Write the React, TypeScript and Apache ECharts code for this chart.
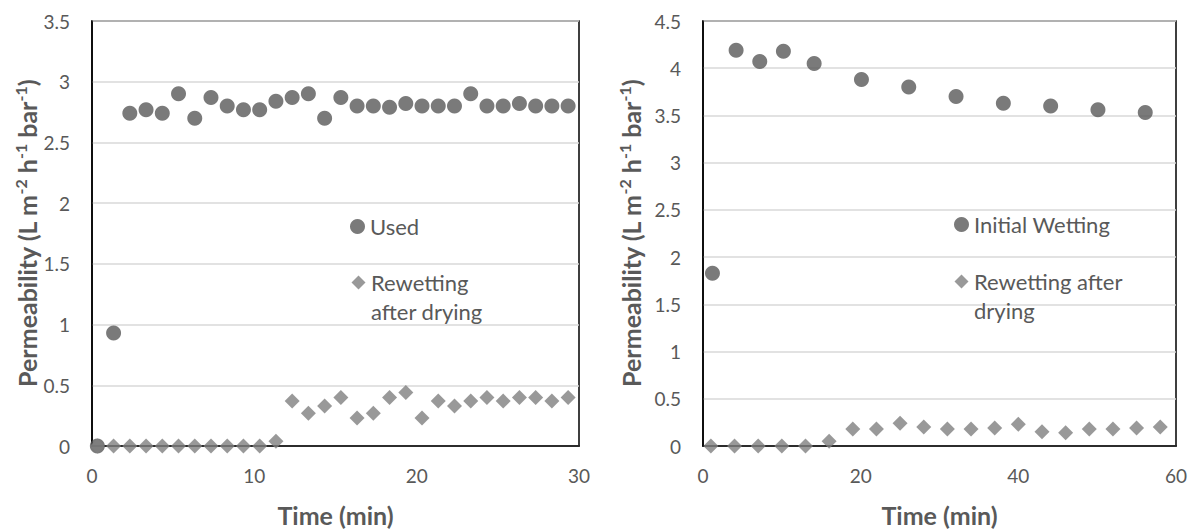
import React, { useEffect, useRef } from "react";
import * as echarts from "echarts";

const FONT = "Lato, 'Open Sans', sans-serif";
const TEXT = "#595959";

// Left chart: time (min)
const leftTime = [0.33, 1.33, 2.33, 3.33, 4.33, 5.33, 6.33, 7.33, 8.33, 9.33, 10.33, 11.33, 12.33, 13.33, 14.33, 15.33, 16.33, 17.33, 18.33, 19.33, 20.33, 21.33, 22.33, 23.33, 24.33, 25.33, 26.33, 27.33, 28.33, 29.33];
const leftUsed = [0, 0.93, 2.74, 2.77, 2.74, 2.9, 2.7, 2.87, 2.8, 2.77, 2.77, 2.84, 2.87, 2.9, 2.7, 2.87, 2.8, 2.8, 2.79, 2.82, 2.8, 2.8, 2.8, 2.9, 2.8, 2.8, 2.82, 2.8, 2.8, 2.8];
const leftRewet = [0, 0, 0, 0, 0, 0, 0, 0, 0, 0, 0, 0.04, 0.37, 0.27, 0.33, 0.4, 0.23, 0.27, 0.4, 0.44, 0.23, 0.37, 0.33, 0.37, 0.4, 0.37, 0.4, 0.4, 0.37, 0.4];

// Right chart
const rightInitTime = [1.2, 4.2, 7.2, 10.2, 14.1, 20.1, 26.1, 32.1, 38.1, 44.1, 50.1, 56.1];
const rightInit = [1.83, 4.19, 4.07, 4.18, 4.05, 3.88, 3.8, 3.7, 3.63, 3.6, 3.56, 3.53];
const rightRewetTime = [1, 4, 7, 10, 13, 16, 19, 22, 25, 28, 31, 34, 37, 40, 43, 46, 49, 52, 55, 58];
const rightRewet = [0, 0, 0, 0, 0, 0.05, 0.18, 0.18, 0.24, 0.2, 0.18, 0.18, 0.19, 0.23, 0.15, 0.14, 0.18, 0.18, 0.19, 0.2];

const leftXTicks = { min: 0, max: 30, interval: 10 };
const leftYTicks = { min: 0, max: 3.5, interval: 0.5 };
const rightXTicks = { min: 0, max: 60, interval: 20 };
const rightYTicks = { min: 0, max: 4.5, interval: 0.5 };

const zip = (xs: number[], ys: number[]) => xs.map((x, i) => [x, ys[i]]);

const yName = "{b|Permeability (L m}{s|-2}{b| h}{s|-1}{b| bar}{s|-1}{b|)}";

// diamond icon placed at the top of a tall (15 x 58) box so it lines up with the first text line
const DIAMOND_ICON = "path://M0,0L0,0M15,58L15,58M7.5,7.5L14.5,14.5L7.5,21.5L0.5,14.5Z";

function makeXAxis(idx: number, t: { min: number; max: number; interval: number }) {
  return {
    type: "value",
    gridIndex: idx,
    min: t.min,
    max: t.max,
    interval: t.interval,
    name: "Time (min)",
    nameLocation: "middle",
    nameGap: 56,
    nameTextStyle: { fontFamily: FONT, fontSize: 25, fontWeight: "bold", color: TEXT },
    axisLine: { show: true, onZero: false, lineStyle: { color: "#000", width: 1.5 } },
    axisTick: { show: false },
    splitLine: { show: false },
    axisLabel: { fontFamily: FONT, fontSize: 19, color: TEXT, margin: 20 },
  };
}

function makeYAxis(idx: number, t: { min: number; max: number; interval: number }, gap: number) {
  return {
    type: "value",
    gridIndex: idx,
    min: t.min,
    max: t.max,
    interval: t.interval,
    name: yName,
    nameLocation: "middle",
    nameGap: gap,
    nameTextStyle: {
      rich: {
        b: { fontFamily: FONT, fontSize: 25, fontWeight: "bold", color: TEXT, lineHeight: 30 },
        s: { fontFamily: FONT, fontSize: 16, fontWeight: "bold", color: TEXT, verticalAlign: "top", lineHeight: 30 },
      },
    },
    axisLine: { show: true, onZero: false, lineStyle: { color: "#000", width: 1.5 } },
    axisTick: { show: false },
    splitLine: { show: true, lineStyle: { color: "#d9d9d9", width: 1.5 } },
    axisLabel: { fontFamily: FONT, fontSize: 19, color: TEXT, margin: 22, formatter: (v: number) => String(v) },
  };
}

function legendCircle(name: string, left: number, top: number) {
  return {
    data: [name],
    left,
    top,
    orient: "vertical",
    padding: 0,
    itemWidth: 15,
    itemHeight: 15,
    selectedMode: false,
    textStyle: { fontFamily: FONT, fontSize: 22, color: TEXT, lineHeight: 29 },
  };
}

function legendDiamond(name: string, left: number, top: number, text: string) {
  return {
    data: [{ name, icon: DIAMOND_ICON }],
    left,
    top,
    orient: "vertical",
    padding: 0,
    itemWidth: 15,
    itemHeight: 58,
    selectedMode: false,
    formatter: () => text,
    textStyle: { fontFamily: FONT, fontSize: 22, color: TEXT, lineHeight: 29 },
  };
}

export default function App() {
  const ref = useRef<HTMLDivElement>(null);
  useEffect(() => {
    if (!ref.current) return;
    const chart = echarts.init(ref.current, null, { renderer: "svg" });
    const circle = { symbol: "circle", symbolSize: 15, itemStyle: { color: "#595959" } };
    const diamond = { symbol: "diamond", symbolSize: 15, itemStyle: { color: "#7f7f7f" } };
    chart.setOption({
      animation: false,
      backgroundColor: "#ffffff",
      grid: [
        { left: 92, top: 21, width: 487, height: 428, show: true, borderColor: "#000", borderWidth: 1.5, backgroundColor: "transparent" },
        { left: 703, top: 21, width: 473, height: 428, show: true, borderColor: "#000", borderWidth: 1.5, backgroundColor: "transparent" },
      ],
      xAxis: [makeXAxis(0, leftXTicks), makeXAxis(1, rightXTicks)],
      yAxis: [makeYAxis(0, leftYTicks, 50), makeYAxis(1, rightYTicks, 57)],
      legend: [
        legendCircle("Used", 350, 212),
        legendDiamond("Rewetting after drying", 351, 268, "Rewetting\nafter drying"),
        legendCircle("Initial Wetting", 954, 210),
        legendDiamond("Rewetting after drying", 954, 267, "Rewetting after\ndrying"),
      ],
      series: [
        { type: "scatter", name: "Used", xAxisIndex: 0, yAxisIndex: 0, data: zip(leftTime, leftUsed), ...circle, clip: false },
        { type: "scatter", name: "Rewetting after drying", xAxisIndex: 0, yAxisIndex: 0, data: zip(leftTime, leftRewet), ...diamond, clip: false },
        { type: "scatter", name: "Initial Wetting", xAxisIndex: 1, yAxisIndex: 1, data: zip(rightInitTime, rightInit), ...circle, clip: false },
        { type: "scatter", name: "Rewetting after drying", xAxisIndex: 1, yAxisIndex: 1, data: zip(rightRewetTime, rightRewet), ...diamond, clip: false },
      ],
    });
    return () => chart.dispose();
  }, []);
  return <div ref={ref} style={{ position: "fixed", left: 0, top: 0, width: 1197, height: 532 }} />;
}
